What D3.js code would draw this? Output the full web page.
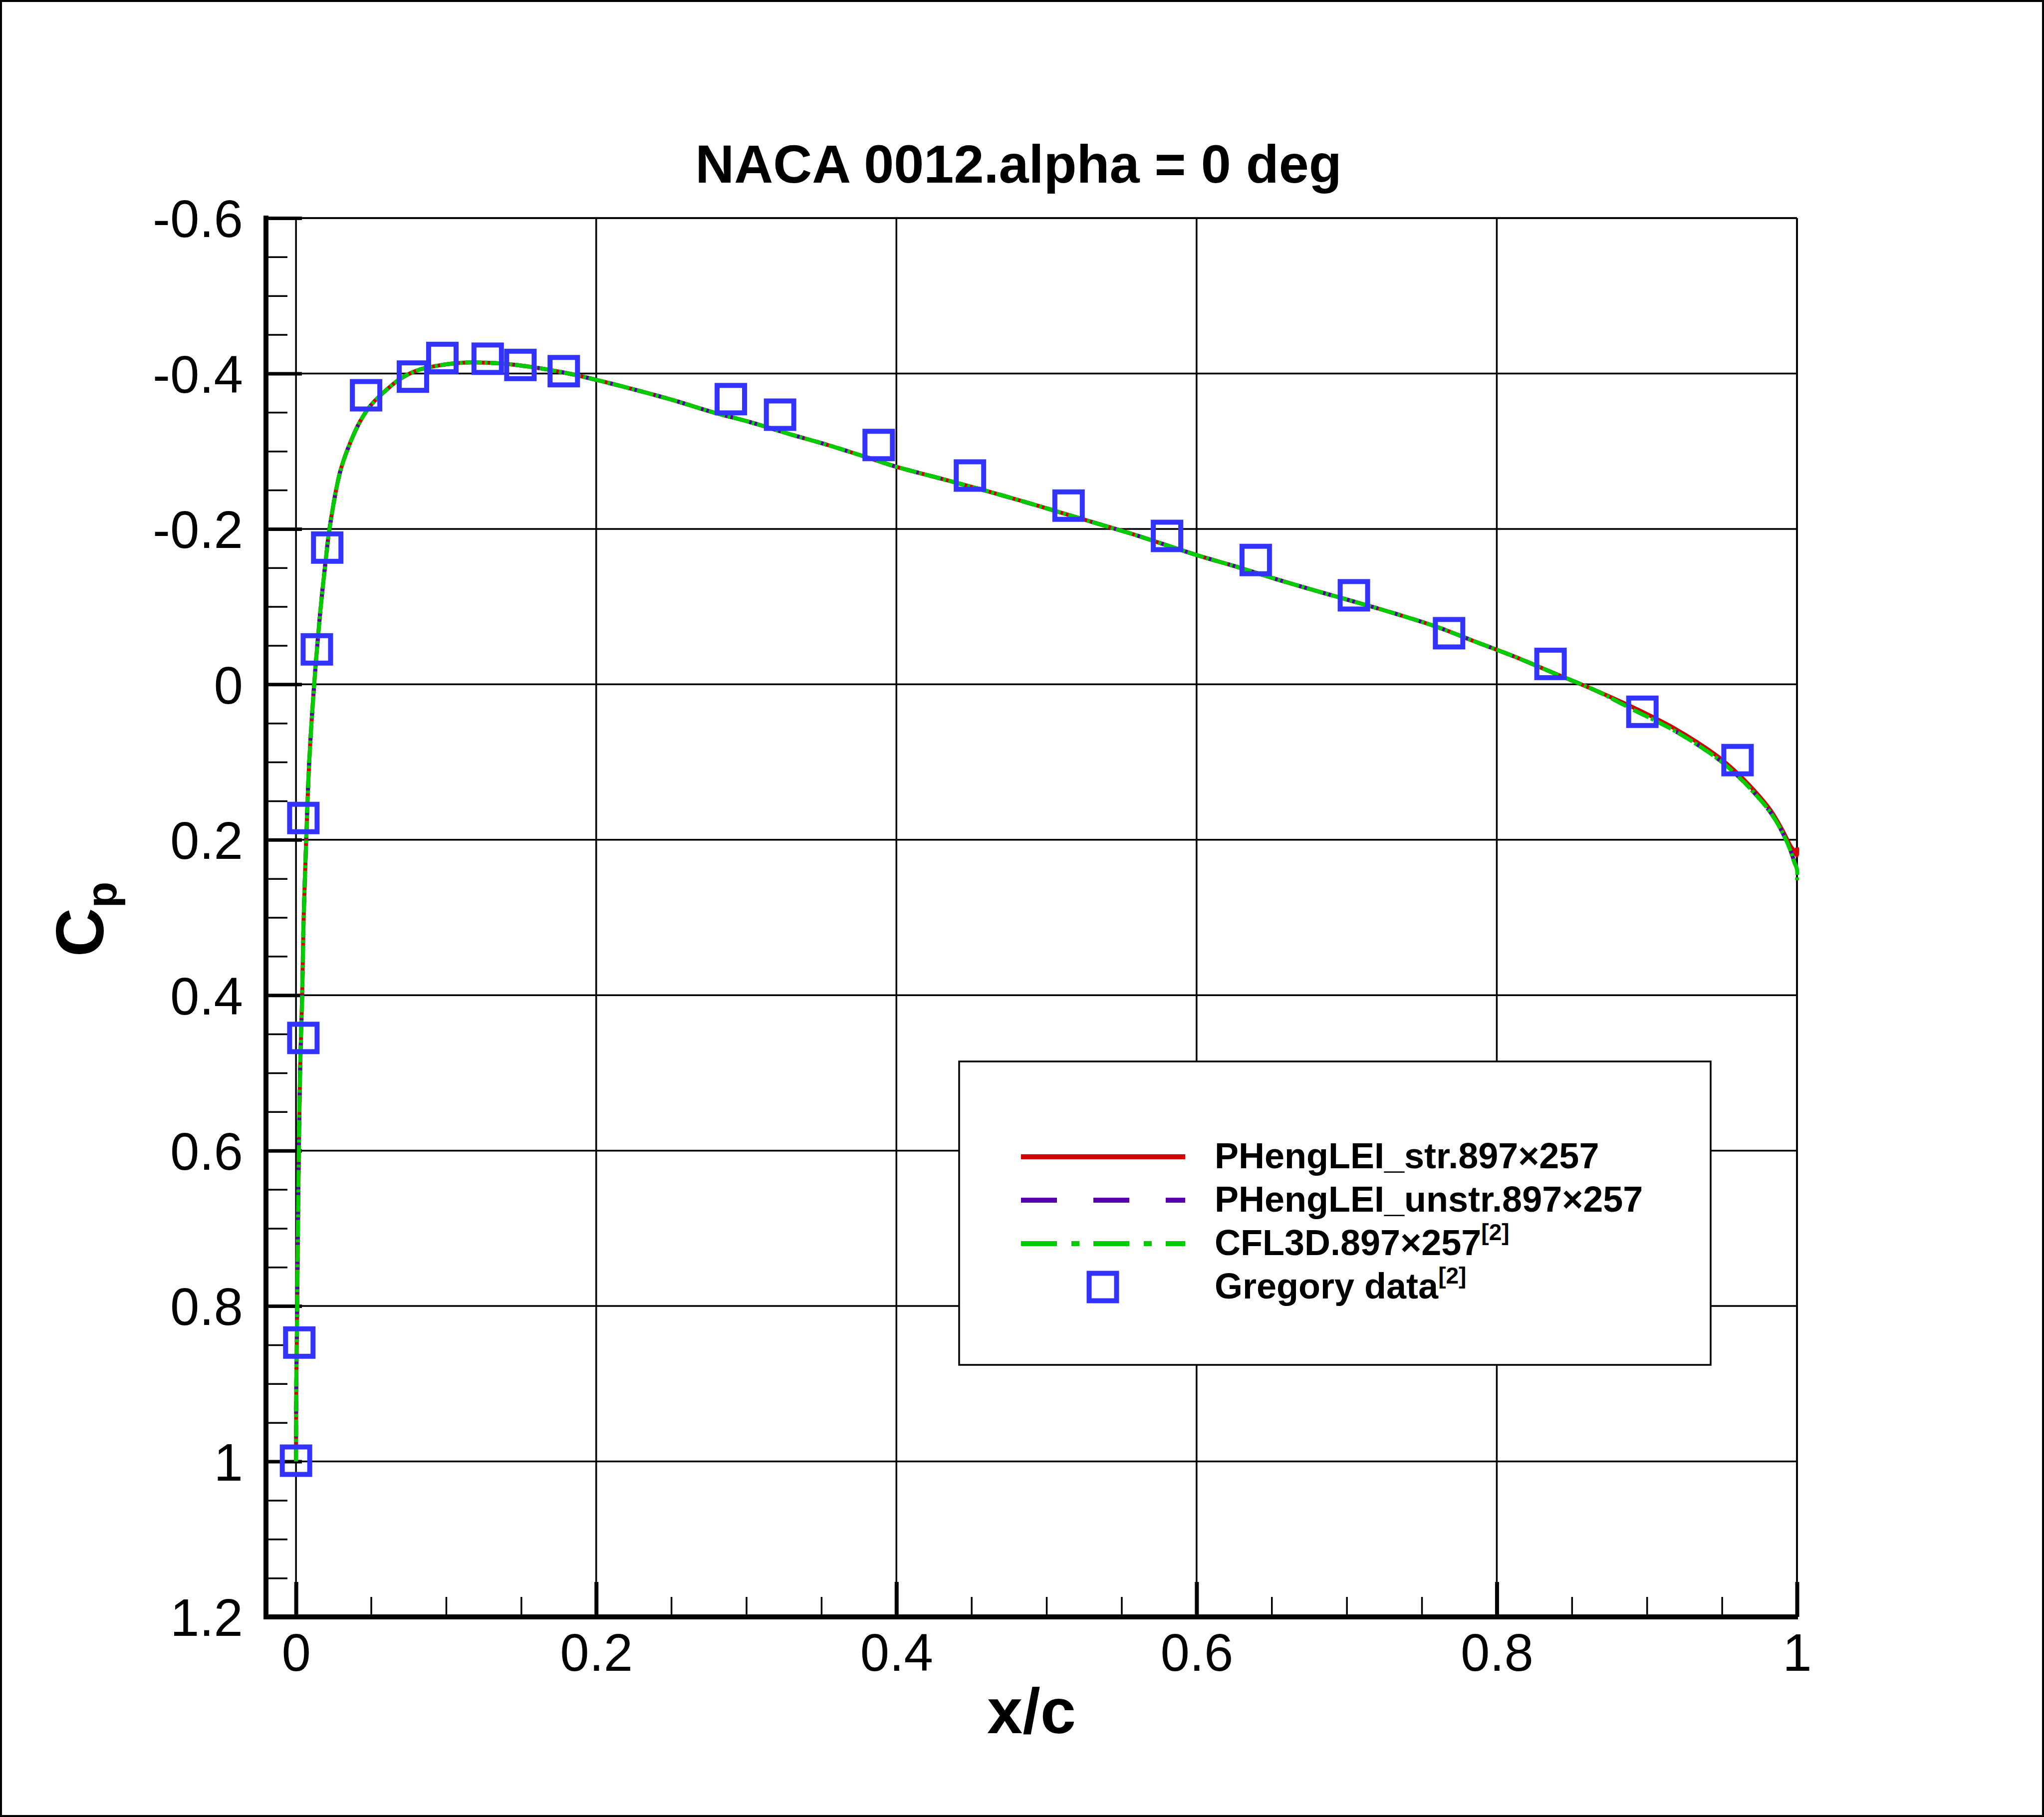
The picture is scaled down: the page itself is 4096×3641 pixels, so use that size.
<!DOCTYPE html>
<html lang="en">
<head>
    <meta charset="UTF-8" />
    <title>NACA 0012 Cp</title>
    <script src="https://d3js.org/d3.v7.min.js"></script>
    <style>
        body { margin: 0; background: #fff; }
        text { font-family: "Liberation Sans", Arial, Helvetica, sans-serif; fill: #000; }
    </style>
</head>
<body>
    <script>
        // chord positions shared by the three computed curves
        const xCurve = [0.0000, 0.0002, 0.0008, 0.0013, 0.0019, 0.0027, 0.0041, 0.0051, 0.0068, 0.0088,
            0.0121, 0.0165, 0.0197, 0.0223, 0.0292, 0.0349, 0.0426, 0.0502, 0.0597, 0.0693,
            0.0807, 0.0941, 0.111, 0.1266, 0.142, 0.165, 0.184, 0.2017, 0.2271, 0.2525,
            0.278, 0.3034, 0.3289, 0.3543, 0.3798, 0.4, 0.4307, 0.456, 0.4816, 0.507,
            0.5325, 0.5579, 0.6007, 0.6272, 0.6537, 0.6802, 0.7068, 0.7332, 0.7597, 0.7863,
            0.8127, 0.8392, 0.8657, 0.8923, 0.9187, 0.9453, 0.9584, 0.9717, 0.9824, 0.9904,
            0.9957, 0.998, 1.0, 1.0];

        const cpCfl3d = [1.0, 0.9, 0.8, 0.7, 0.6, 0.5, 0.4, 0.3, 0.2, 0.1,
            0.0, -0.1, -0.158, -0.2, -0.272, -0.305, -0.338, -0.360, -0.378, -0.393,
            -0.404, -0.410, -0.414, -0.414, -0.412, -0.406, -0.399, -0.391, -0.3785, -0.365,
            -0.350, -0.337, -0.322, -0.308, -0.2925, -0.280, -0.2642, -0.251, -0.237, -0.2225,
            -0.2077, -0.193, -0.166, -0.151, -0.135, -0.120, -0.1055, -0.0905, -0.0742, -0.0545,
            -0.035, -0.0135, 0.0078, 0.034, 0.060, 0.093, 0.114, 0.140, 0.165, 0.191,
            0.214, 0.228, 0.238, 0.252];

        const cpUnstr = [1.0, 0.9, 0.8, 0.7, 0.6, 0.5, 0.4, 0.3, 0.2, 0.1,
            0.0, -0.1, -0.158, -0.2, -0.272, -0.305, -0.338, -0.360, -0.378, -0.393,
            -0.404, -0.410, -0.414, -0.414, -0.412, -0.406, -0.399, -0.391, -0.3785, -0.365,
            -0.350, -0.337, -0.322, -0.308, -0.2925, -0.280, -0.2642, -0.251, -0.237, -0.2225,
            -0.2077, -0.193, -0.166, -0.151, -0.135, -0.120, -0.1055, -0.0905, -0.0742, -0.0545,
            -0.035, -0.0135, 0.0078, 0.034, 0.060, 0.093, 0.114, 0.140, 0.165, 0.191,
            0.214, 0.226, 0.232, 0.236];

        const cpStr = [1.0, 0.9, 0.8, 0.7, 0.6, 0.5, 0.4, 0.3, 0.2, 0.1,
            0.0, -0.1, -0.158, -0.2, -0.272, -0.305, -0.338, -0.360, -0.378, -0.393,
            -0.404, -0.410, -0.414, -0.414, -0.412, -0.406, -0.399, -0.391, -0.3785, -0.365,
            -0.350, -0.337, -0.322, -0.308, -0.2925, -0.280, -0.2642, -0.251, -0.237, -0.2225,
            -0.2077, -0.193, -0.166, -0.151, -0.135, -0.120, -0.1055, -0.0905, -0.0742, -0.0545,
            -0.035, -0.0135, 0.0078, 0.031, 0.057, 0.090, 0.111, 0.137, 0.162, 0.188,
            0.208, 0.214, 0.220, 0.210];

        // Gregory experiment
        const gregX = [0.0, 0.0022, 0.0049, 0.0049, 0.0139, 0.0208, 0.0467, 0.0779, 0.0975, 0.1277,
            0.1495, 0.1784, 0.2897, 0.3225, 0.3882, 0.449, 0.5147, 0.5803, 0.6394, 0.7048,
            0.7682, 0.8358, 0.897, 0.9604];
        const gregCp = [0.999, 0.847, 0.455, 0.172, -0.045, -0.176, -0.372, -0.396, -0.420, -0.419,
            -0.411, -0.403, -0.367, -0.347, -0.308, -0.2687, -0.230, -0.191, -0.160, -0.1146,
            -0.0658, -0.0263, 0.0353, 0.0975];

        const xTicks = [0, 0.2, 0.4, 0.6, 0.8, 1];
        const xTickLabels = ["0", "0.2", "0.4", "0.6", "0.8", "1"];
        const yTicks = [-0.6, -0.4, -0.2, 0, 0.2, 0.4, 0.6, 0.8, 1, 1.2];
        const yTickLabels = ["-0.6", "-0.4", "-0.2", "0", "0.2", "0.4", "0.6", "0.8", "1", "1.2"];

        const seriesNames = ["PHengLEI_str.897×257", "PHengLEI_unstr.897×257", "CFL3D.897×257", "Gregory data"];
        const seriesRefs = ["", "", "[2]", "[2]"];

        const W = 4096, H = 3641;
        const pLeft = 533, pRight = 3601, pTop = 437, pBottom = 3240;

        const x = d3.scaleLinear().domain([-0.02, 1]).range([pLeft, pRight]);
        const y = d3.scaleLinear().domain([-0.6, 1.2]).range([pTop, pBottom]);

        const svg = d3.select("body").append("svg")
            .attr("width", W).attr("height", H);

        svg.append("rect").attr("width", W).attr("height", H).attr("fill", "#fff");
        // outer border of the image
        svg.append("rect").attr("x", 2).attr("y", 2).attr("width", W - 4).attr("height", H - 4)
            .attr("fill", "none").attr("stroke", "#000").attr("stroke-width", 4);

        // grid
        const grid = svg.append("g").attr("stroke", "#000").attr("stroke-width", 3.5);
        grid.selectAll(".gx").data(xTicks).enter().append("line")
            .attr("x1", d => x(d)).attr("x2", d => x(d)).attr("y1", pTop).attr("y2", pBottom);
        grid.selectAll(".gy").data(yTicks).enter().append("line")
            .attr("x1", pLeft).attr("x2", pRight).attr("y1", d => y(d)).attr("y2", d => y(d));
        grid.append("line").attr("x1", pLeft).attr("x2", pRight).attr("y1", pTop).attr("y2", pTop);
        grid.append("line").attr("x1", pRight).attr("x2", pRight).attr("y1", pTop).attr("y2", pBottom);

        // axes: ticks point inward
        const yMinor = d3.range(-0.6, 1.2001, 0.05).filter(v => Math.abs(Math.round(v * 5) - v * 5) > 1e-6);
        const xMinor = d3.range(0, 1.0001, 0.05).filter(v => Math.abs(Math.round(v * 5) - v * 5) > 1e-6);

        const yAxis = svg.append("g").attr("transform", `translate(${pLeft},0)`)
            .call(d3.axisLeft(y).tickValues(yTicks).tickSize(-72).tickPadding(46)
                .tickFormat((d, i) => yTickLabels[i]));
        yAxis.selectAll("line").attr("stroke-width", 7);
        yAxis.selectAll("text").attr("font-size", 105).attr("dy", "0.36em");
        svg.append("g").attr("transform", `translate(${pLeft},0)`)
            .call(d3.axisLeft(y).tickValues(yMinor).tickSize(-43).tickFormat(""))
            .selectAll("line").attr("stroke-width", 3.5);

        const xAxis = svg.append("g").attr("transform", `translate(0,${pBottom})`)
            .call(d3.axisBottom(x).tickValues(xTicks).tickSize(-70).tickPadding(33)
                .tickFormat((d, i) => xTickLabels[i]));
        xAxis.selectAll("line").attr("stroke-width", 8);
        xAxis.selectAll("text").attr("font-size", 105).attr("dy", "0.71em");
        svg.append("g").attr("transform", `translate(0,${pBottom})`)
            .call(d3.axisBottom(x).tickValues(xMinor).tickSize(-40).tickFormat(""))
            .selectAll("line").attr("stroke-width", 3.5);

        svg.selectAll(".domain").remove();
        svg.append("line").attr("x1", pLeft).attr("x2", pLeft).attr("y1", pTop - 5).attr("y2", pBottom + 5)
            .attr("stroke", "#000").attr("stroke-width", 10);
        svg.append("line").attr("x1", pLeft - 5).attr("x2", pRight + 2).attr("y1", pBottom).attr("y2", pBottom)
            .attr("stroke", "#000").attr("stroke-width", 10);

        // curves
        const line = d3.line().x(d => x(d[0])).y(d => y(d[1])).curve(d3.curveCatmullRom);
        const plot = svg.append("g");
        const series = [
            { cp: cpStr, color: "#d40000", dash: null },
            { cp: cpUnstr, color: "#5500aa", dash: "24 24" },
            { cp: cpCfl3d, color: "#00cc00", dash: "34 5 6 5" }
        ];
        plot.selectAll("path.curve").data(series).enter().append("path")
            .attr("class", "curve")
            .attr("d", s => line(xCurve.map((v, i) => [v, s.cp[i]])))
            .attr("fill", "none")
            .attr("stroke", s => s.color)
            .attr("stroke-width", 8)
            .attr("stroke-dasharray", s => s.dash);

        const sq = 55;
        plot.selectAll("rect.greg").data(gregX.map((v, i) => [v, gregCp[i]])).enter().append("rect")
            .attr("class", "greg")
            .attr("x", d => x(d[0]) - sq / 2).attr("y", d => y(d[1]) - sq / 2)
            .attr("width", sq).attr("height", sq)
            .attr("fill", "none").attr("stroke", "#3333ff").attr("stroke-width", 10);

        // legend
        const lg = svg.append("g");
        lg.append("rect").attr("x", 1922).attr("y", 2127).attr("width", 1506).attr("height", 608)
            .attr("fill", "#fff").attr("stroke", "#000").attr("stroke-width", 3.5);
        const rowY = [2318, 2405, 2492, 2579];
        const legendDash = [null, "72 73", "72 29 16 28"];
        series.forEach((s, i) => {
            lg.append("line").attr("x1", 2046).attr("x2", 2375).attr("y1", rowY[i]).attr("y2", rowY[i])
                .attr("stroke", s.color).attr("stroke-width", 10).attr("stroke-dasharray", legendDash[i]);
        });
        lg.append("rect").attr("x", 2210 - sq / 2).attr("y", rowY[3] - sq / 2).attr("width", sq).attr("height", sq)
            .attr("fill", "none").attr("stroke", "#3333ff").attr("stroke-width", 10);
        seriesNames.forEach((name, i) => {
            const t = lg.append("text").attr("x", 2434).attr("y", rowY[i] + 23)
                .attr("font-size", 72).attr("font-weight", "bold").text(name);
            if (seriesRefs[i]) {
                t.append("tspan").attr("font-size", 46).attr("dy", -30).text(seriesRefs[i]);
            }
        });

        // titles
        svg.append("text").attr("x", 2041).attr("y", 366).attr("text-anchor", "middle")
            .attr("font-size", 108).attr("font-weight", "bold").text("NACA 0012.alpha = 0 deg");
        svg.append("text").attr("x", (x(0) + x(1)) / 2 - 30).attr("y", 3473).attr("text-anchor", "middle")
            .attr("font-size", 128).attr("font-weight", "bold").text("x/c");
        const cp = svg.append("text").attr("transform", `translate(207,1842) rotate(-90)`)
            .attr("text-anchor", "middle").attr("font-size", 136).attr("font-weight", "bold");
        cp.append("tspan").text("C");
        cp.append("tspan").attr("font-size", 86).attr("dy", 26).text("p");
    </script>
</body>
</html>
